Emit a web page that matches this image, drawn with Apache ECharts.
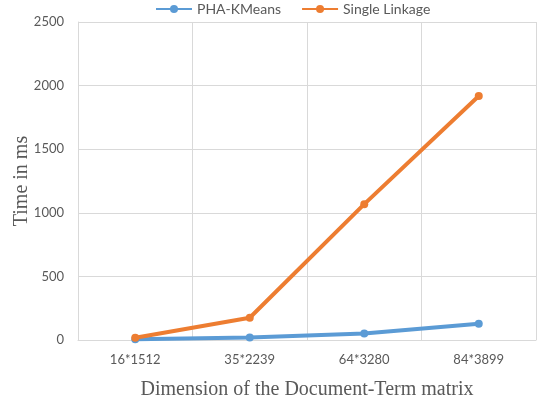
<!DOCTYPE html>
<html><head><meta charset="utf-8">
<script src="https://cdn.jsdelivr.net/npm/echarts@6/dist/echarts.min.js"></script>
<style>html,body{margin:0;padding:0;background:#fff}#c{width:544px;height:408px}</style>
</head><body><div id="c"></div>
<script>
const categories = ['16*1512', '35*2239', '64*3280', '84*3899'];
const phaKMeans = [5, 20, 52, 128];
const singleLinkage = [18, 175, 1068, 1918];
const yTicks = { min: 0, max: 2500, interval: 500 };

const chart = echarts.init(document.getElementById('c'));
chart.setOption({
  animation: false,
  legend: {
    top: -3, left: 150, itemGap: 20,
    itemWidth: 36, itemHeight: 10,
    textStyle: { fontFamily: 'Lato', fontSize: 14, color: '#595959' },
    data: ['PHA-KMeans', 'Single Linkage']
  },
  grid: { left: 78, right: 8, top: 22, bottom: 68, outerBoundsMode: 'none', containLabel: false },
  xAxis: {
    type: 'category', data: categories, boundaryGap: true,
    axisLine: { lineStyle: { color: '#d9d9d9' } },
    axisTick: { show: false },
    splitLine: { show: true, lineStyle: { color: '#d9d9d9' } },
    axisLabel: { margin: 13, fontFamily: 'Lato', fontSize: 13, color: '#595959' },
    name: 'Dimension of the Document-Term matrix', nameLocation: 'middle', nameGap: 40,
    nameTextStyle: { fontFamily: 'Liberation Serif', fontSize: 20, color: '#595959' }
  },
  yAxis: {
    type: 'value', min: yTicks.min, max: yTicks.max, interval: yTicks.interval,
    axisLine: { show: true, lineStyle: { color: '#d9d9d9' } },
    splitLine: { lineStyle: { color: '#d9d9d9' } },
    axisLabel: { margin: 14, fontFamily: 'Lato', fontSize: 13, color: '#595959', formatter: v => String(v) },
    name: 'Time in ms', nameLocation: 'middle', nameGap: 46, nameMoveOverlap: false,
    nameTextStyle: { fontFamily: 'Liberation Serif', fontSize: 20, color: '#595959' }
  },
  series: [
    { name: 'PHA-KMeans', type: 'line', data: phaKMeans, symbol: 'circle', symbolSize: 8,
      lineStyle: { width: 4, color: '#5B9BD5' }, itemStyle: { color: '#5B9BD5' } },
    { name: 'Single Linkage', type: 'line', data: singleLinkage, symbol: 'circle', symbolSize: 8,
      lineStyle: { width: 4, color: '#ED7D31' }, itemStyle: { color: '#ED7D31' } }
  ]
});
</script></body></html>
